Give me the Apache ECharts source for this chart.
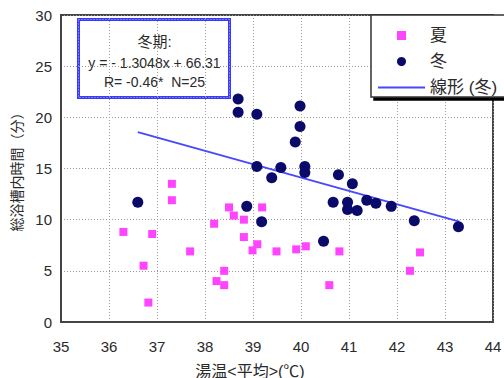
<!DOCTYPE html>
<html>
<head>
<meta charset="utf-8">
<script src="https://cdn.jsdelivr.net/npm/echarts@6/dist/echarts.min.js"></script>
<style>
  html, body { margin: 0; padding: 0; background: #fff; }
  #chart { width: 504px; height: 378px; }
</style>
</head>
<body>
<div id="chart"></div>
<script>
// 湯温 (x) と総浴槽内時間 (y) : 夏
const summerTemp = [36.30, 36.72, 36.82, 36.90, 37.31, 37.31, 37.69, 38.19, 38.24, 38.40, 38.40, 38.50, 38.60,
                    38.81, 38.81, 38.99, 39.09, 39.19, 39.49, 39.90, 40.10, 40.59, 40.80, 42.27, 42.48];
const summerTime = [8.8, 5.5, 1.9, 8.6, 13.5, 11.9, 6.9, 9.6, 4.0, 5.0, 3.6, 11.2, 10.4,
                    10.0, 8.3, 7.0, 7.6, 11.2, 6.9, 7.1, 7.4, 3.6, 6.9, 5.0, 6.8];

// 冬
const winterTemp = [36.60, 38.69, 38.69, 39.08, 38.87, 39.18, 39.08, 39.39, 39.58, 39.88, 39.98, 39.98, 40.08,
                    40.08, 40.47, 40.67, 40.78, 40.97, 40.97, 41.07, 41.17, 41.37, 41.56, 41.88, 42.36, 43.28];
const winterTime = [11.7, 21.8, 20.5, 20.3, 11.3, 9.8, 15.2, 14.1, 15.1, 17.6, 21.1, 19.1, 15.2,
                    14.6, 7.9, 11.7, 14.4, 11.7, 11.0, 13.5, 10.9, 11.9, 11.6, 11.3, 9.9, 9.3];

// 冬期の回帰直線 y = a x + b
const trendSlope = -1.3048;
const trendIntercept = 66.31;
const trendRange = [36.6, 43.3];

const xTicks = { min: 35, max: 44, step: 1 };
const yTicks = { min: 0, max: 30, step: 5 };

const seriesNames = ['夏', '冬', '線形 (冬)'];
const noteLines = ['冬期:', 'y = - 1.3048x + 66.31', 'R= -0.46*  N=25'];
const xName = '湯温<平均>(℃)';
const yName = '総浴槽内時間（分）';

const FONT = '"Liberation Sans", "Noto Sans CJK JP", sans-serif';
const TXT = '#2a2a2a';
const SQUARE = 'path://M0,0H10V10H0Z';

const summerData = summerTemp.map((x, i) => [x, summerTime[i]]);
const winterData = winterTemp.map((x, i) => [x, winterTime[i]]);
const trendData = trendRange.map(x => [x, trendSlope * x + trendIntercept]);

const chart = echarts.init(document.getElementById('chart'), null, { renderer: 'svg' });

chart.setOption({
  animation: false,
  backgroundColor: '#fff',
  textStyle: { fontFamily: FONT },
  grid: {
    left: 61, right: 11, top: 15, bottom: 56,
    containLabel: false, outerBoundsMode: 'none',
    show: true, borderColor: '#444', borderWidth: 2, backgroundColor: 'transparent'
  },
  xAxis: {
    type: 'value',
    min: xTicks.min, max: xTicks.max, interval: xTicks.step,
    name: xName, nameLocation: 'middle', nameGap: 41,
    nameTextStyle: { color: TXT, fontSize: 16, fontFamily: FONT, padding: [0, 54, 0, 0] },
    axisLine: { show: true, lineStyle: { color: '#444', width: 2 } },
    axisTick: { show: false },
    axisLabel: { color: TXT, fontSize: 15, margin: 17, fontFamily: FONT, showMaxLabel: true },
    splitLine: { show: true, lineStyle: { color: '#999', type: [1, 2], width: 1 } }
  },
  yAxis: {
    type: 'value',
    min: yTicks.min, max: yTicks.max, interval: yTicks.step,
    name: yName, nameLocation: 'middle', nameGap: 34, nameRotate: 90,
    nameTextStyle: { color: TXT, fontSize: 14, fontFamily: FONT },
    axisLine: { show: true, lineStyle: { color: '#444', width: 2 } },
    axisTick: { show: false },
    axisLabel: { color: TXT, fontSize: 15, margin: 9, fontFamily: FONT, padding: [7, 0, 0, 0] },
    splitLine: { show: true, lineStyle: { color: '#999', type: [1, 2], width: 1 } }
  },
  legend: {
    orient: 'vertical',
    left: 371, top: 15,
    padding: [12, 40, 1, 6],
    itemGap: 9,
    itemWidth: 47, itemHeight: 9,
    backgroundColor: '#fff',
    borderColor: '#333', borderWidth: 1.5,
    shadowColor: '#000', shadowBlur: 0, shadowOffsetX: 3, shadowOffsetY: 3,
    textStyle: { color: TXT, fontSize: 17, fontFamily: FONT },
    data: [
      { name: seriesNames[0], icon: SQUARE },
      { name: seriesNames[1], icon: 'circle' },
      { name: seriesNames[2], itemStyle: { opacity: 0 } }
    ]
  },
  graphic: [{
    type: 'group',
    left: 76, top: 17,
    children: [
      { type: 'rect', shape: { x: 0, y: 0, width: 151, height: 78 },
        style: { fill: '#fff', stroke: '#3a3aff', lineWidth: 3 } },
      { type: 'rect', shape: { x: 0, y: 0, width: 151, height: 78 },
        style: { fill: 'none', stroke: '#b8b8ff', lineWidth: 1, lineDash: [1, 2] } },
      { type: 'text', x: 76, y: 22,
        style: { text: noteLines[0], fill: TXT, font: '15px ' + FONT, align: 'center', verticalAlign: 'middle' } },
      { type: 'text', x: 76, y: 43,
        style: { text: noteLines[1], fill: TXT, font: '14px ' + FONT, align: 'center', verticalAlign: 'middle' } },
      { type: 'text', x: 76, y: 62,
        style: { text: noteLines[2], fill: TXT, font: '14px ' + FONT, align: 'center', verticalAlign: 'middle' } }
    ]
  }],
  series: [
    {
      name: seriesNames[0], type: 'scatter', data: summerData,
      symbol: SQUARE, symbolSize: 8, symbolKeepAspect: true,
      itemStyle: { color: '#ff44ff', opacity: 1 }, z: 3
    },
    {
      name: seriesNames[1], type: 'scatter', data: winterData,
      symbol: 'circle', symbolSize: 11,
      itemStyle: { color: '#0a0a6a', opacity: 1 }, z: 3
    },
    {
      name: seriesNames[2], type: 'line', data: trendData,
      symbol: 'none', showSymbol: false,
      lineStyle: { color: '#4848ff', width: 2 }, z: 2
    }
  ]
});
</script>
</body>
</html>
